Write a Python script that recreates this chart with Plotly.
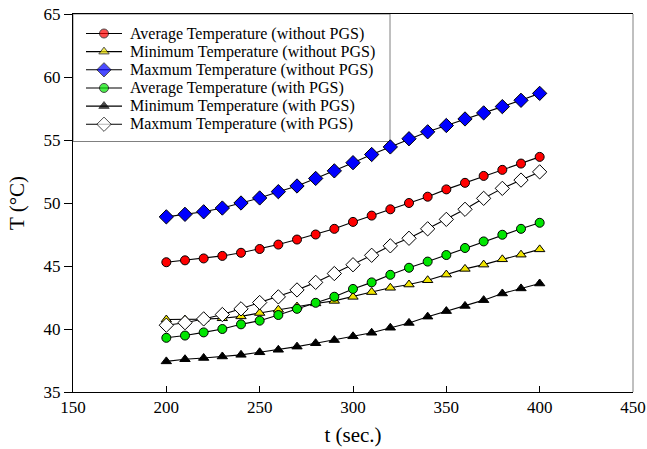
import plotly.graph_objects as go

t = [200, 210, 220, 230, 240, 250, 260, 270, 280, 290, 300,
     310, 320, 330, 340, 350, 360, 370, 380, 390, 400]

avg_without = [45.3, 45.45, 45.6, 45.8, 46.05, 46.35, 46.7, 47.1, 47.5, 47.95, 48.5,
               49.0, 49.5, 50.0, 50.5, 51.08, 51.6, 52.15, 52.63, 53.13, 53.66]
min_without = [40.75, 40.75, 40.78, 40.85, 41.0, 41.27, 41.53, 41.78, 42.03, 42.23, 42.55,
               42.93, 43.27, 43.53, 43.87, 44.32, 44.77, 45.11, 45.53, 45.9, 46.32]
max_without = [48.9, 49.1, 49.3, 49.6, 50.0, 50.4, 50.9, 51.35, 51.95, 52.55, 53.2,
               53.85, 54.45, 55.1, 55.65, 56.15, 56.67, 57.15, 57.65, 58.15, 58.7]
avg_with = [39.3, 39.48, 39.73, 40.0, 40.37, 40.66, 41.11, 41.6, 42.08, 42.56, 43.18,
            43.7, 44.3, 44.86, 45.35, 45.87, 46.43, 46.95, 47.48, 47.95, 48.43]
min_with = [37.43, 37.6, 37.7, 37.82, 37.95, 38.15, 38.35, 38.6, 38.87, 39.12, 39.42,
            39.7, 40.1, 40.48, 40.98, 41.42, 41.83, 42.29, 42.82, 43.22, 43.61]
max_with = [40.3, 40.5, 40.8, 41.15, 41.6, 42.1, 42.55, 43.1, 43.7, 44.4, 45.1,
            45.85, 46.6, 47.2, 47.95, 48.7, 49.5, 50.37, 51.16, 51.82, 52.47]

x_ticks = [150, 200, 250, 300, 350, 400, 450]
y_ticks = [35, 40, 45, 50, 55, 60, 65]

names = ["Average Temperature (without PGS)",
         "Minimum Temperature (without PGS)",
         "Maxmum Temperature (without PGS)",
         "Average Temperature (with PGS)",
         "Minimum Temperature (with PGS)",
         "Maxmum Temperature (with PGS)"]

# styles indexed like names
symbols = ["circle", "triangle-up", "diamond", "circle", "triangle-up", "diamond"]
fills = ["#ff0000", "#f2e600", "#0000ff", "#00e600", "#000000", "#ffffff"]
sizes = [9, 9, 11, 9, 9, 11]
values = [avg_without, min_without, max_without, avg_with, min_with, max_with]
draw_order = [1, 4, 3, 5, 0, 2]

FONT = "Liberation Serif, Times New Roman, serif"

W, H = 647, 449
ML, MR, MT, MB = 73, 14, 14, 57
PW, PH = W - ML - MR, H - MT - MB

def px_x(p):
    return (p - ML) / PW

def px_y(p):
    return 1 - (p - MT) / PH

fig = go.Figure()
for idx in draw_order:
    fig.add_trace(go.Scatter(
        x=t, y=values[idx], name=names[idx], mode="lines+markers",
        showlegend=False,
        line=dict(color="black", width=1.1),
        marker=dict(symbol=symbols[idx], color=fills[idx], size=sizes[idx],
                    line=dict(color="black", width=1)),
    ))

# legend box (manual, to match compact row spacing)
fig.add_shape(type="rect", xref="paper", yref="paper",
              x0=0, x1=px_x(390), y0=px_y(141.5), y1=1,
              line=dict(color="#808080", width=1), fillcolor="white", layer="below")

annotations = []
for i, name in enumerate(names):
    ry = px_y(33.5 + i * 18.15)
    fig.add_trace(go.Scatter(
        x=[px_x(86), px_x(104), px_x(122)], y=[ry, ry, ry],
        xaxis="x2", yaxis="y2", mode="lines+markers", showlegend=False,
        hoverinfo="skip",
        line=dict(color="black", width=1.1),
        marker=dict(symbol=symbols[i], color=fills[i], size=[0, sizes[i], 0],
                    line=dict(color="black", width=[0, 1, 0])),
    ))
    annotations.append(dict(x=px_x(128), y=ry, xref="paper", yref="paper",
                            text=name, showarrow=False, xanchor="left",
                            yanchor="middle",
                            font=dict(family=FONT, size=16, color="black")))

# lighter right frame line
fig.add_shape(type="line", xref="paper", yref="paper", x0=1, x1=1, y0=0, y1=1,
              line=dict(color="#808080", width=1))

fig.update_layout(
    width=W, height=H,
    margin=dict(l=ML, r=MR, t=MT, b=MB, autoexpand=False),
    paper_bgcolor="white", plot_bgcolor="white",
    font=dict(family=FONT, size=17, color="black"),
    showlegend=False,
    annotations=annotations,
    xaxis2=dict(overlaying="x", range=[0, 1], visible=False, fixedrange=True),
    yaxis2=dict(overlaying="y", range=[0, 1], visible=False, fixedrange=True),
    xaxis=dict(range=[150, 450], tickvals=x_ticks,
               ticks="inside", ticklen=6, tickcolor="black",
               showline=True, linecolor="black", linewidth=1, mirror=True,
               showgrid=False, zeroline=False, ticklabeloverflow="allow",
               automargin=False,
               title=dict(text="t (sec.)", font=dict(family=FONT, size=21), standoff=10),
               tickfont=dict(family=FONT, size=17)),
    yaxis=dict(range=[35, 65], tickvals=y_ticks,
               ticks="outside", ticklen=8, tickcolor="black",
               showline=True, linecolor="black", linewidth=1,
               showgrid=False, zeroline=False, ticklabeloverflow="allow",
               automargin=False,
               title=dict(text="T (°C)", font=dict(family=FONT, size=21), standoff=13),
               tickfont=dict(family=FONT, size=17)),
)

fig.write_html("out.html")
